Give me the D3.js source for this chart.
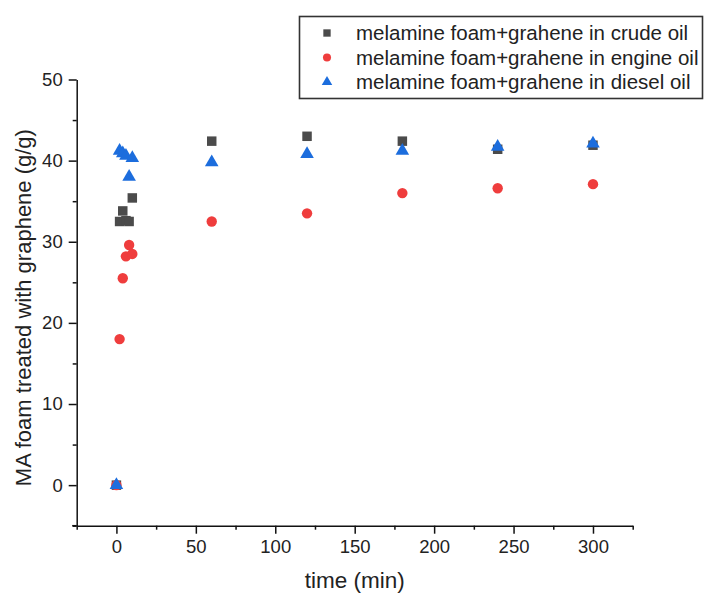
<!DOCTYPE html>
<html>
<head>
<meta charset="utf-8">
<script src="https://cdn.jsdelivr.net/npm/d3@7"></script>
<style>
  html, body { margin: 0; padding: 0; background: #fff; }
  svg { display: block; font-family: "Liberation Sans", Arial, sans-serif; }
</style>
</head>
<body>
<svg id="chart" width="704" height="594"></svg>
<script>
// Sampling times (min)
const times = [0, 2, 4, 6, 8, 10, 60, 120, 180, 240, 300];

// Uptake capacity (g/g) for each oil
const crudeOil  = [0, 32.5, 33.8, 32.6, 32.5, 35.4, 42.4, 43.0, 42.4, 41.4, 41.9];
const engineOil = [0, 18.0, 25.5, 28.2, 29.6, 28.5, 32.5, 33.5, 36.0, 36.6, 37.1];
const dieselOil = [0, 41.2, 40.9, 40.6, 38.0, 40.3, 39.8, 40.8, 41.2, 41.7, 42.1];

const seriesNames = [
  "melamine foam+grahene in crude oil",
  "melamine foam+grahene in engine oil",
  "melamine foam+grahene in diesel oil"
];

// Axis ticks
const xMajorTicks = [0, 50, 100, 150, 200, 250, 300];
const xMinorTicks = [-25, 25, 75, 125, 175, 225, 275, 325];
const yMajorTicks = [0, 10, 20, 30, 40, 50];
const yMinorTicks = [-5, 5, 15, 25, 35, 45];

const xLabel = "time (min)";
const yLabel = "MA foam treated with graphene (g/g)";

const series = [
  { name: seriesNames[0], values: crudeOil,  color: "#4b4b4b", shape: d3.symbolSquare,   size: 90 },
  { name: seriesNames[1], values: engineOil, color: "#ef3d3d", shape: d3.symbolCircle,   size: 85 },
  { name: seriesNames[2], values: dieselOil, color: "#1c6ddd", shape: d3.symbolTriangle, size: 80 }
];

const svg = d3.select("#chart");

const x = d3.scaleLinear().domain([-25, 325]).range([76.7, 632.7]);
const y = d3.scaleLinear().domain([-5, 50]).range([525.7, 79.5]);

const axisFont = "18.5px";

// X axis: major ticks with labels, then minor ticks
const gx = svg.append("g").attr("transform", `translate(0,${y(-5)})`);
gx.call(d3.axisBottom(x).tickValues(xMajorTicks).tickSize(8).tickSizeOuter(0).tickPadding(6).tickFormat(d3.format("d")));
gx.append("g").call(d3.axisBottom(x).tickValues(xMinorTicks).tickSize(4).tickSizeOuter(0).tickFormat(""))
  .select(".domain").remove();

// Y axis
const gy = svg.append("g").attr("transform", `translate(${x(-25)},0)`);
gy.call(d3.axisLeft(y).tickValues(yMajorTicks).tickSize(8).tickSizeOuter(0).tickPadding(6).tickFormat(d3.format("d")));
gy.append("g").call(d3.axisLeft(y).tickValues(yMinorTicks).tickSize(4).tickSizeOuter(0).tickFormat(""))
  .select(".domain").remove();

svg.selectAll(".domain, .tick line").attr("stroke", "#111").attr("stroke-width", 1.5);
svg.selectAll(".tick text").attr("fill", "#222").style("font-size", axisFont).style("font-family", "Liberation Sans, Arial, sans-serif");

// small overhang of the bottom axis line past the left axis
gx.append("line").attr("x1", x(-25) - 4.5).attr("x2", x(-25)).attr("y1", 0).attr("y2", 0)
  .attr("stroke", "#111").attr("stroke-width", 1.5);

// Axis titles
svg.append("text")
  .attr("x", (x(-25) + x(325)) / 2).attr("y", 588)
  .attr("text-anchor", "middle")
  .style("font-size", "22.5px").attr("fill", "#222")
  .text(xLabel);

svg.append("text")
  .attr("transform", `translate(31,${(y(-5) + y(50)) / 2 + 5}) rotate(-90)`)
  .attr("text-anchor", "middle")
  .style("font-size", "22px").attr("fill", "#222")
  .text(yLabel);

// Scatter points
const plot = svg.append("g");
series.forEach(s => {
  const sym = d3.symbol().type(s.shape).size(s.size);
  plot.append("g").selectAll("path")
    .data(times.map((t, i) => ({ t, v: s.values[i] })))
    .join("path")
    .attr("d", sym)
    .attr("transform", d => `translate(${x(d.t)},${y(d.v)})`)
    .attr("fill", s.color);
});

// Legend
const legend = svg.append("g");
legend.append("rect")
  .attr("x", 299.5).attr("y", 16.5).attr("width", 403).attr("height", 82)
  .attr("fill", "#fff").attr("stroke", "#333").attr("stroke-width", 1.6);

series.forEach((s, i) => {
  const cy = 33 + i * 24.5;
  legend.append("path")
    .attr("d", d3.symbol().type(s.shape).size(s.size * 0.6)())
    .attr("transform", `translate(327,${cy})`)
    .attr("fill", s.color);
  legend.append("text")
    .attr("x", 356).attr("y", cy + 7)
    .style("font-size", "20.5px").attr("fill", "#222")
    .text(s.name);
});
</script>
</body>
</html>
